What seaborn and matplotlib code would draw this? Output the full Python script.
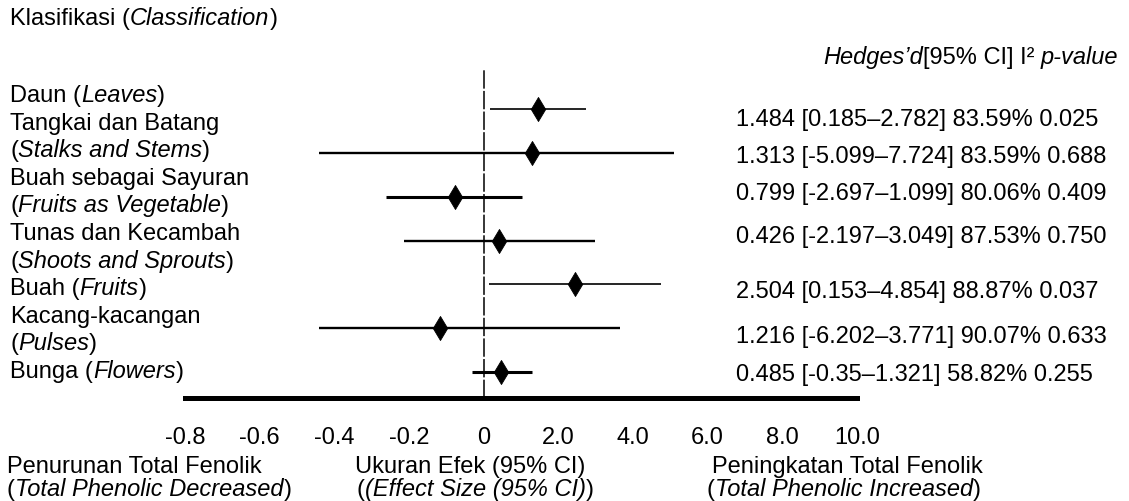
import numpy as np
import pandas as pd
import matplotlib
matplotlib.use('Agg')
import matplotlib.pyplot as plt
import seaborn as sns

# Data (effect sizes as drawn on the axis)
categories = ['Daun', 'Tangkai dan Batang', 'Buah sebagai Sayuran', 'Tunas dan Kecambah',
              'Buah', 'Kacang-kacangan', 'Bunga']
est = [1.45, 1.29, -0.77, 0.41, 2.44, -1.18, 0.47]
ci_low = [0.18, -4.42, -2.61, -2.14, 0.13, -4.42, -0.31]
ci_high = [2.74, 5.09, 1.04, 2.97, 4.74, 3.64, 1.29]
stat_text = ['1.484 [0.185–2.782] 83.59% 0.025',
             '1.313 [-5.099–7.724] 83.59% 0.688',
             '0.799 [-2.697–1.099] 80.06% 0.409',
             '0.426 [-2.197–3.049] 87.53% 0.750',
             '2.504 [0.153–4.854] 88.87% 0.037',
             '1.216 [-6.202–3.771] 90.07% 0.633',
             '0.485 [-0.35–1.321] 58.82% 0.255']
tick_pos = [-8, -6, -4, -2, 0, 2, 4, 6, 8, 10]
tick_labels = ['-0.8', '-0.6', '-0.4', '-0.2', '0', '2.0', '4.0', '6.0', '8.0', '10.0']

# label lines on the left: (normal, italic, normal)
left_lines = [('Daun (', 'Leaves', ')'),
              ('Tangkai dan Batang', '', ''),
              ('(', 'Stalks and Stems', ')'),
              ('Buah sebagai Sayuran', '', ''),
              ('(', 'Fruits as Vegetable', ')'),
              ('Tunas dan Kecambah', '', ''),
              ('(', 'Shoots and Sprouts', ')'),
              ('Buah (', 'Fruits', ')'),
              ('Kacang-kacangan', '', ''),
              ('(', 'Pulses', ')'),
              ('Bunga (', 'Flowers', ')')]

df = pd.DataFrame({'cat': categories, 'est': est, 'lo': ci_low, 'hi': ci_high})
df['row'] = np.arange(len(df))

sns.set_style('white')
plt.rcParams['font.family'] = ['Liberation Sans', 'DejaVu Sans']
plt.rcParams['text.color'] = 'black'
plt.rcParams['xtick.color'] = 'black'

FS = 17
font = dict(family=['Liberation Sans', 'DejaVu Sans'], size=FS, color='black')
W, H = 1129, 501
fig = plt.figure(figsize=(W / 100, H / 100), dpi=100)

# forest axes, pixel box x 185..857, y 68..398
ax = fig.add_axes([185 / W, 1 - 398 / H, 672 / W, 330 / H])
ci_lw = [1.2, 1.7, 2.2, 1.7, 1.2, 1.7, 2.2]
ax.hlines(df['row'], df['lo'], df['hi'], colors='black', linewidth=ci_lw, zorder=2)
sns.scatterplot(data=df, x='est', y='row', marker='d', s=150, color='black',
                edgecolor='black', linewidth=0.6, ax=ax, zorder=3, legend=False)
ax.axvline(0, color='black', lw=1.1, ls=(0, (12, 1.5)), zorder=1)
ax.set_xlim(-8, 10)
ax.set_ylim(6.59, -0.94)
ax.set_xticks(tick_pos)
ax.set_xticklabels(tick_labels, **font)
ax.set_yticks([])
ax.set_xlabel('')
ax.set_ylabel('')
ax.tick_params(axis='x', length=0, pad=21)
for s in ['left', 'right', 'top']:
    ax.spines[s].set_visible(False)
ax.spines['bottom'].set_linewidth(3.6)
ax.spines['bottom'].set_color('black')
ax.patch.set_alpha(0)

# overlay for text in pixel coordinates
tx = fig.add_axes([0, 0, 1, 1])
tx.set_xlim(0, W)
tx.set_ylim(H, 0)
tx.axis('off')
tx.patch.set_alpha(0)


def mixed(x, y, parts):
    """parts: list of (text, italic) drawn one after another"""
    prev = None
    for txt, it in parts:
        if not txt:
            continue
        style = 'italic' if it else 'normal'
        if prev is None:
            prev = tx.text(x, y, txt, ha='left', va='center', style=style, **font)
        else:
            prev = tx.annotate(txt, xycoords=prev, xy=(1, 0), ha='left', va='bottom',
                               style=style, **font)
    return prev


mixed(10, 19, [('Klasifikasi (', False), ('Classification', True), (')', False)])
mixed(823, 57, [('Hedges’d', True), ('[95% CI] I² ', False), ('p-value', True)])

y0, dy = 96, 27.6
for i, (a, b, c) in enumerate(left_lines):
    mixed(10, y0 + i * dy, [(a, False), (b, True), (c, False)])

stat_y = [120, 157, 194, 237, 292, 337, 375]
for t, yy in zip(stat_text, stat_y):
    tx.text(736, yy, t, ha='left', va='center', **font)

mixed(7, 467, [('Penurunan Total Fenolik', False)])
mixed(7, 490, [('(', False), ('Total Phenolic Decreased', True), (')', False)])
mixed(355, 467, [('Ukuran Efek (95% CI)', False)])
mixed(357, 490, [('(', False), ('(Effect Size (95% CI)', True), (')', False)])
mixed(712, 467, [('Peningkatan Total Fenolik', False)])
mixed(707, 490, [('(', False), ('Total Phenolic Increased', True), (')', False)])

fig.savefig('out.png', dpi=100)
